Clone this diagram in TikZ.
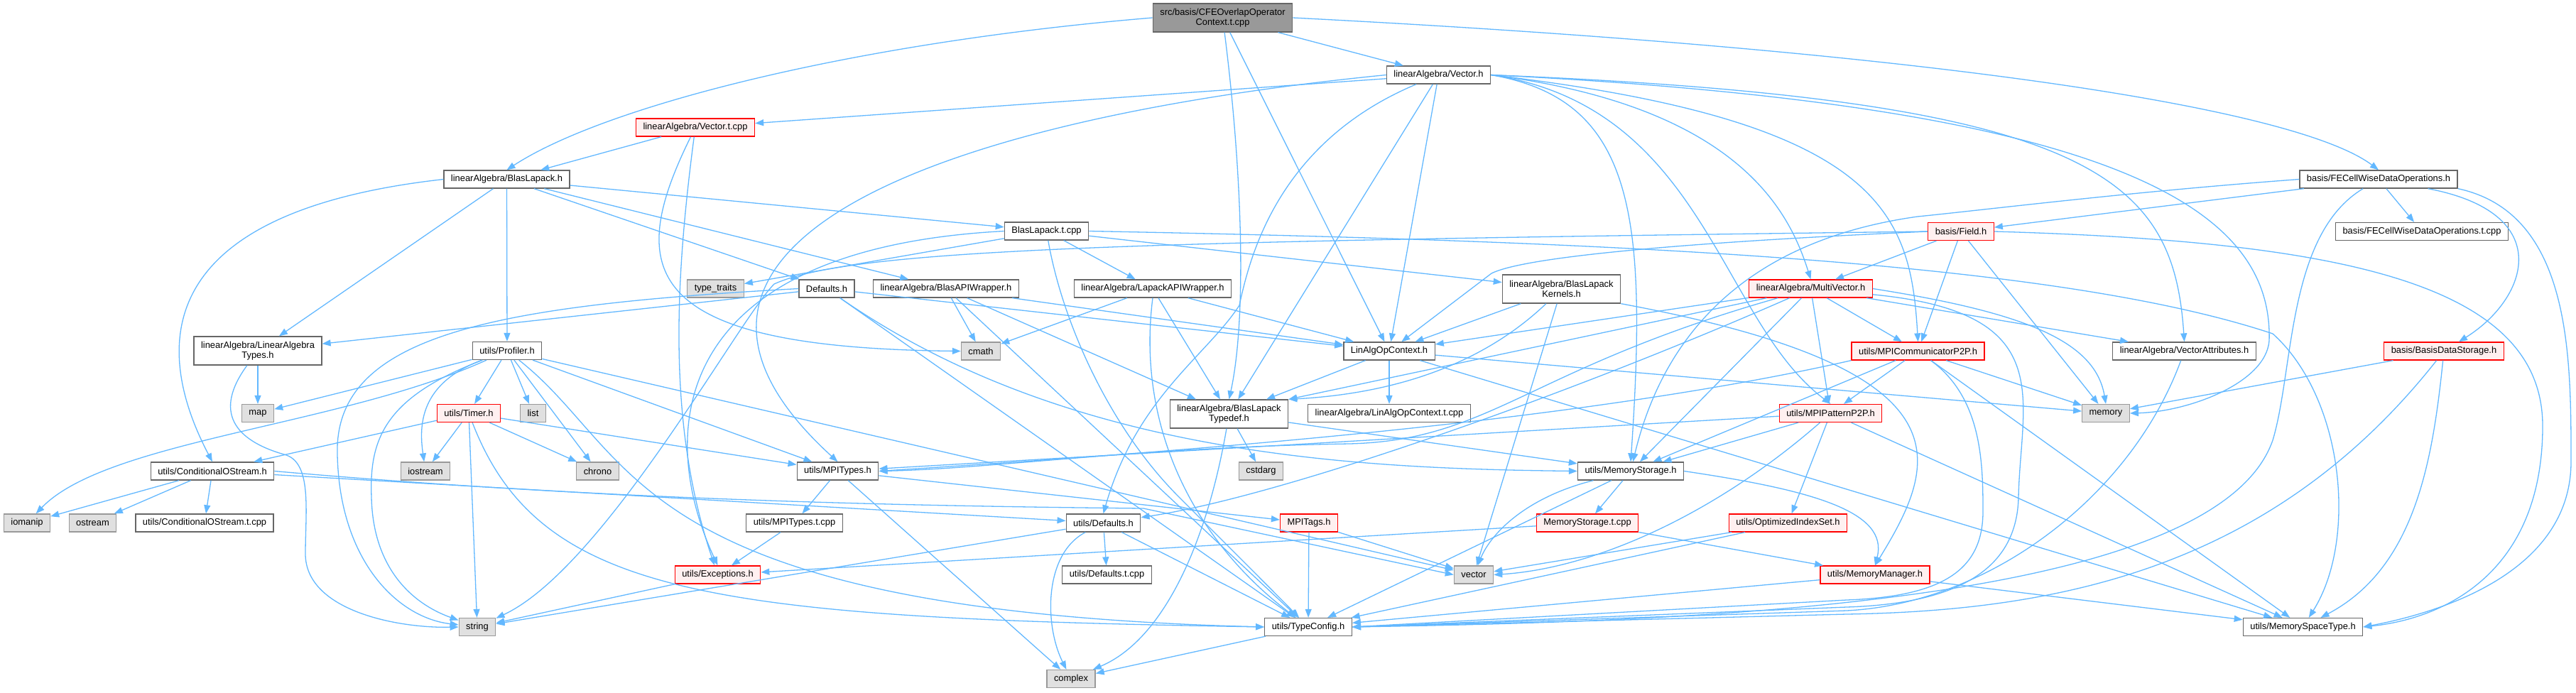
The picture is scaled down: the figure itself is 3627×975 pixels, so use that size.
\documentclass[tikz,border=0pt]{standalone}
\usepackage{fontspec}
\setmainfont{Liberation Sans}
\usetikzlibrary{arrows.meta}

\definecolor{edgeblue}{HTML}{63B8FF}
\definecolor{hdrline}{HTML}{666666}
\definecolor{sysfill}{HTML}{E0E0E0}
\definecolor{sysline}{HTML}{999999}
\definecolor{redfill}{HTML}{FFF0F0}
\definecolor{srcfill}{HTML}{999999}

\begin{document}
\begin{tikzpicture}[x=1pt, y=1pt,
    hdr/.style={draw=hdrline, fill=white, line width=1.3pt, minimum height=25pt,
        inner xsep=10pt, inner ysep=3pt, align=center,
        font=\fontsize{12.9}{14.5}\selectfont},
    redhdr/.style={hdr, draw=red, fill=redfill},
    syshdr/.style={hdr, draw=sysline, fill=sysfill},
    srchdr/.style={hdr, fill=srcfill},
    twoline/.style={minimum height=40pt},
    incl/.style={draw=edgeblue, line width=1.3pt, -{Triangle[length=12pt,width=9pt]}}]
    \useasboundingbox (0,0) rectangle (3627,-975);

    % The source file and the headers, row by row
    \node[srchdr, twoline] (src) at (1721.5,-25) {src/basis/CFEOverlapOperator\\Context.t.cpp};
    \node[hdr] (vech) at (2025.5,-105.5) {linearAlgebra/Vector.h};
    \node[redhdr] (vectcpp) at (979,-179.5) {linearAlgebra/Vector.t.cpp};
    \node[hdr] (blash) at (713.5,-252.5) {linearAlgebra/BlasLapack.h};
    \node[hdr] (fecellh) at (3349,-252.5) {basis/FECellWiseDataOperations.h};
    \node[hdr] (blastcpp) at (1473.5,-325.5) {BlasLapack.t.cpp};
    \node[redhdr] (fieldh) at (2761,-326) {basis/Field.h};
    \node[hdr] (fecelltcpp) at (3410,-326) {basis/FECellWiseDataOperations.t.cpp};
    \node[syshdr] (typetraits) at (1007.5,-406.5) {type\_traits};
    \node[hdr] (defaultsh) at (1164,-406.5) {Defaults.h};
    \node[hdr] (blasapi) at (1332,-406.5) {linearAlgebra/BlasAPIWrapper.h};
    \node[hdr] (lapackapi) at (1623,-406.5) {linearAlgebra/LapackAPIWrapper.h};
    \node[hdr, twoline] (kernels) at (2198.5,-407) {linearAlgebra/BlasLapack\\Kernels.h};
    \node[redhdr] (multivech) at (2549.5,-406.5) {linearAlgebra/MultiVector.h};
    \node[hdr, twoline] (latypes) at (363,-494) {linearAlgebra/LinearAlgebra\\Types.h};
    \node[hdr] (profilerh) at (714,-494) {utils/Profiler.h};
    \node[syshdr] (cmath) at (1381,-494.5) {cmath};
    \node[hdr] (linalgh) at (1956,-494.5) {LinAlgOpContext.h};
    \node[redhdr] (mpicommh) at (2700.5,-494.5) {utils/MPICommunicatorP2P.h};
    \node[hdr] (vecattrh) at (3075.5,-494.5) {linearAlgebra/VectorAttributes.h};
    \node[redhdr] (basisdsh) at (3441,-494.5) {basis/BasisDataStorage.h};
    \node[syshdr] (map) at (363,-582) {map};
    \node[redhdr] (timerh) at (660,-582) {utils/Timer.h};
    \node[syshdr] (list) at (750.5,-582) {list};
    \node[hdr, twoline] (typedefh) at (1730.5,-583) {linearAlgebra/BlasLapack\\Typedef.h};
    \node[hdr] (linalgtcpp) at (1956,-582) {linearAlgebra/LinAlgOpContext.t.cpp};
    \node[redhdr] (mpipath) at (2577.5,-582) {utils/MPIPatternP2P.h};
    \node[syshdr] (memory) at (2965,-582) {memory};
    \node[hdr] (condosh) at (299,-663.5) {utils/ConditionalOStream.h};
    \node[syshdr] (iostream) at (599,-663.5) {iostream};
    \node[syshdr] (chrono) at (841.5,-663.5) {chrono};
    \node[hdr] (mpitypesh) at (1179.5,-663.5) {utils/MPITypes.h};
    \node[syshdr] (cstdarg) at (1775.5,-663.5) {cstdarg};
    \node[hdr] (memstorh) at (2296,-663.5) {utils/MemoryStorage.h};
    \node[syshdr] (iomanip) at (38,-736.5) {iomanip};
    \node[syshdr] (ostream) at (130.5,-736.5) {ostream};
    \node[hdr] (condostcpp) at (288,-736.5) {utils/ConditionalOStream.t.cpp};
    \node[hdr] (mpitypestcpp) at (1118.5,-736.5) {utils/MPITypes.t.cpp};
    \node[hdr] (udefaultsh) at (1553.5,-736.5) {utils/Defaults.h};
    \node[redhdr] (mpitagsh) at (1843,-736.5) {MPITags.h};
    \node[redhdr] (memstortcpp) at (2235,-736.5) {MemoryStorage.t.cpp};
    \node[redhdr] (optidxh) at (2517.5,-736.5) {utils/OptimizedIndexSet.h};
    \node[redhdr] (exceptionsh) at (1010.5,-809.5) {utils/Exceptions.h};
    \node[hdr] (udefaultstcpp) at (1558.5,-809.5) {utils/Defaults.t.cpp};
    \node[syshdr] (vector) at (2075,-809.5) {vector};
    \node[redhdr] (memmgrh) at (2640,-809.5) {utils/MemoryManager.h};
    \node[syshdr] (string) at (672,-883) {string};
    \node[hdr] (typeconfigh) at (1842,-883) {utils/TypeConfig.h};
    \node[hdr] (memspaceh) at (3242.5,-883) {utils/MemorySpaceType.h};
    \node[syshdr] (complex) at (1508,-956) {complex};

    % Short includes, drawn straight
    \foreach \a/\b in {src/vech, src/linalgh, vech/vectcpp, vech/linalgh, vech/typedefh,
        vectcpp/blash, blash/latypes, blash/profilerh, blash/blastcpp, blash/blasapi,
        blash/defaultsh, fecellh/fieldh, fecellh/fecelltcpp, blastcpp/typetraits,
        blastcpp/kernels, blastcpp/lapackapi, fieldh/multivech, fieldh/mpicommh,
        fieldh/memory, defaultsh/latypes, defaultsh/linalgh, defaultsh/typeconfigh,
        blasapi/cmath, blasapi/typedefh, blasapi/linalgh, blasapi/typeconfigh,
        lapackapi/cmath, lapackapi/typedefh, lapackapi/linalgh, kernels/linalgh,
        kernels/vector, multivech/linalgh, multivech/mpicommh, multivech/mpipath,
        multivech/memstorh, multivech/vecattrh, latypes/map, profilerh/map,
        profilerh/timerh, profilerh/list, profilerh/chrono, profilerh/mpitypesh,
        profilerh/vector, linalgh/linalgtcpp, linalgh/typedefh, linalgh/memory,
        linalgh/memspaceh, mpicommh/mpipath, mpicommh/memstorh, mpicommh/memspaceh,
        mpicommh/memory, basisdsh/memory, timerh/condosh, timerh/iostream,
        timerh/string, timerh/chrono, timerh/mpitypesh, typedefh/cstdarg,
        typedefh/memstorh, mpipath/mpitypesh, mpipath/memstorh, mpipath/optidxh,
        mpipath/memspaceh, condosh/iomanip, condosh/ostream, condosh/condostcpp,
        condosh/udefaultsh, mpitypesh/mpitypestcpp, mpitypesh/complex,
        mpitypesh/mpitagsh, memstorh/memstortcpp, memstorh/typeconfigh,
        mpitypestcpp/exceptionsh, udefaultsh/udefaultstcpp, udefaultsh/typeconfigh,
        udefaultsh/string, mpitagsh/vector, mpitagsh/typeconfigh,
        memstortcpp/exceptionsh, memstortcpp/memmgrh, optidxh/vector,
        optidxh/typeconfigh, exceptionsh/string, memmgrh/typeconfigh,
        memmgrh/memspaceh, typeconfigh/complex}
        \draw[incl] (\a) -- (\b);
    \draw[incl] (multivech) -- (typedefh.north east);

    % Longer includes, bent round the other files
    \draw[incl] (src.west) .. controls (1200,-60) and (850,-150) .. (blash.north);
    \draw[incl] (src.east) .. controls (2700,-70) and (3230,-150) .. (fecellh.north);
    \draw[incl] (src) .. controls (1750,-250) and (1755,-450) .. (typedefh.north);
    \draw[incl] (vech.west) .. controls (1300,-170) and (850,-350) .. (mpitypesh.north);
    \draw[incl] (vech) .. controls (1800,-200) and (1760,-360) .. (1745,-430)
        .. controls (1700,-500) and (1600,-560) .. (udefaultsh.north);
    \draw[incl] (vech.east) .. controls (2300,-140) and (2320,-300) .. (memstorh.north);
    \draw[incl] (vech.east) .. controls (2400,-150) and (2420,-450) .. (mpipath.north);
    \draw[incl] (vech.east) .. controls (2450,-150) and (2520,-300) .. (multivech.north);
    \draw[incl] (vech.east) .. controls (2650,-170) and (2690,-300) .. (mpicommh.north);
    \draw[incl] (vech.east) .. controls (2950,-140) and (3060,-250) .. (vecattrh.north);
    \draw[incl] (vech.east) .. controls (3000,-150) and (3200,-300) .. (3195,-480)
        .. controls (3190,-540) and (3080,-580) .. (memory.east);
    \draw[incl] (vectcpp) .. controls (880,-380) and (900,-490) .. (cmath.west);
    \draw[incl] (vectcpp) .. controls (950,-400) and (940,-600) .. (exceptionsh);
    \draw[incl] (blash.west) .. controls (200,-300) and (220,-500) .. (condosh.north);
    \draw[incl] (fecellh) .. controls (3600,-300) and (3560,-420) .. (basisdsh);
    \draw[incl] (fecellh.south east) .. controls (3620,-300) and (3620,-500) .. (3620,-650)
        .. controls (3620,-800) and (3450,-860) .. (memspaceh.east);
    \draw[incl] (fecellh) .. controls (3220,-330) and (3230,-520) .. (3200,-620)
        .. controls (3120,-850) and (2400,-875) .. (typeconfigh.east);
    \draw[incl] (fecellh.west) .. controls (3000,-270) and (2800,-295) .. (2700,-305)
        .. controls (2450,-340) and (2340,-480) .. (memstorh);
    \draw[incl] (blastcpp.west) .. controls (950,-350) and (920,-600) .. (exceptionsh.north);
    \draw[incl] (blastcpp.east) .. controls (2300,-340) and (2900,-370) .. (3200,-470)
        .. controls (3300,-560) and (3320,-760) .. (memspaceh);
    \draw[incl] (blastcpp) .. controls (1495,-450) and (1560,-600) .. (1660,-700)
        .. controls (1740,-780) and (1800,-840) .. (typeconfigh);
    \draw[incl] (fieldh.west) .. controls (2400,-340) and (2150,-360) .. (2100,-385) -- (linalgh);
    \draw[incl] (fieldh.west) .. controls (1600,-340) and (1200,-350) .. (1090,-400)
        .. controls (1040,-450) and (850,-800) .. (string);
    \draw[incl] (fieldh.east) .. controls (3300,-340) and (3580,-400) .. (3580,-600)
        .. controls (3580,-800) and (3450,-870) .. (memspaceh.east);
    \draw[incl] (multivech.east) .. controls (2850,-440) and (2950,-480) .. (memory.north);
    \draw[incl] (multivech) .. controls (2900,-440) and (2845,-560) .. (2842,-700)
        .. controls (2840,-800) and (2760,-850) .. (2600,-855) -- (typeconfigh.east);
    \draw[incl] (multivech) .. controls (2200,-560) and (1800,-700) .. (udefaultsh);
    \draw[incl] (multivech) .. controls (2150,-520) and (2100,-620) .. (1900,-625)
        .. controls (1600,-630) and (1400,-660) .. (mpitypesh.east);
    \draw[incl] (latypes) .. controls (300,-580) and (330,-620) .. (400,-640)
        .. controls (440,-650) and (430,-720) .. (430,-780)
        .. controls (430,-860) and (560,-885) .. (string.west);
    \draw[incl] (defaultsh.west) .. controls (700,-430) and (470,-470) .. (475,-640)
        .. controls (478,-790) and (560,-870) .. (string);
    \draw[incl] (defaultsh) .. controls (1500,-640) and (1900,-660) .. (memstorh.west);
    \draw[incl] (profilerh) .. controls (540,-560) and (520,-620) .. (523,-700)
        .. controls (525,-800) and (580,-850) .. (string);
    \draw[incl] (profilerh) .. controls (480,-600) and (150,-620) .. (iomanip);
    \draw[incl] (profilerh) .. controls (590,-540) and (590,-600) .. (iostream);
    \draw[incl] (profilerh) .. controls (900,-640) and (880,-860) .. (typeconfigh.west);
    \draw[incl] (timerh) .. controls (760,-840) and (1000,-870) .. (typeconfigh.west);
    \draw[incl] (vecattrh) .. controls (3000,-700) and (2800,-850) .. (2600,-860) -- (typeconfigh.east);
    \draw[incl] (basisdsh) .. controls (3200,-800) and (2900,-860) .. (2600,-865) -- (typeconfigh.east);
    \draw[incl] (basisdsh) .. controls (3425,-650) and (3400,-800) .. (memspaceh);
    \draw[incl] (mpicommh) .. controls (2790,-560) and (2792,-650) .. (2792,-720)
        .. controls (2792,-800) and (2740,-840) .. (2600,-845) -- (typeconfigh.east);
    \draw[incl] (mpicommh.south west) .. controls (2200,-600) and (1600,-640) .. (mpitypesh.east);
    \draw[incl] (lapackapi.south) .. controls (1600,-600) and (1680,-760) .. (typeconfigh);
    \draw[incl] (kernels) .. controls (2080,-520) and (1950,-555) .. (typedefh.north east);
    \draw[incl] (kernels.south east) .. controls (2780,-520) and (2730,-650) .. (memmgrh.north);
    \draw[incl] (mpipath) .. controls (2420,-720) and (2250,-800) .. (vector.east);
    \draw[incl] (memstorh) .. controls (2150,-700) and (2100,-750) .. (vector);
    \draw[incl] (memstorh.east) .. controls (2550,-690) and (2660,-720) .. (memmgrh.north);
    \draw[incl] (condosh.east) .. controls (800,-700) and (1200,-712) .. (1610,-716) -- (vector.west);
    \draw[incl] (udefaultsh) .. controls (1470,-780) and (1470,-880) .. (complex);
    \draw[incl] (typedefh) .. controls (1700,-760) and (1640,-900) .. (complex);
\end{tikzpicture}
\end{document}
